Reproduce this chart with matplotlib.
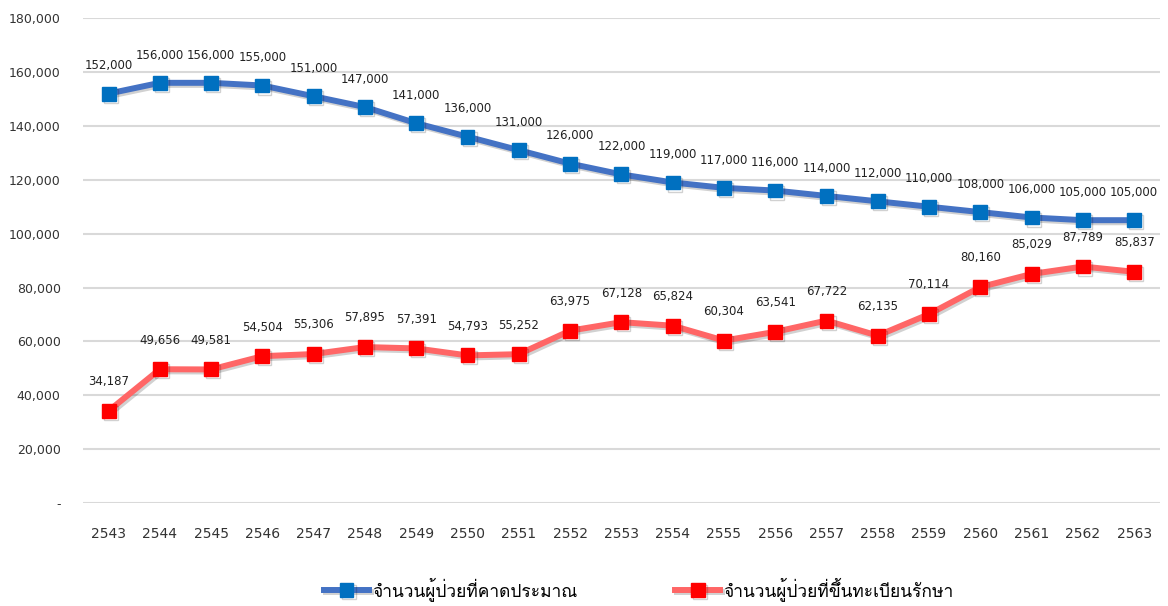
import matplotlib
matplotlib.use("Agg")
import matplotlib.pyplot as plt
import matplotlib.patheffects as pe
from matplotlib import font_manager
from matplotlib.ft2font import FT2Font
from matplotlib.ticker import FuncFormatter

years = ["2543", "2544", "2545", "2546", "2547", "2548", "2549", "2550", "2551", "2552",
         "2553", "2554", "2555", "2556", "2557", "2558", "2559", "2560", "2561", "2562", "2563"]
estimated = [152000, 156000, 156000, 155000, 151000, 147000, 141000, 136000, 131000, 126000,
             122000, 119000, 117000, 116000, 114000, 112000, 110000, 108000, 106000, 105000, 105000]
registered = [34187, 49656, 49581, 54504, 55306, 57895, 57391, 54793, 55252, 63975,
              67128, 65824, 60304, 63541, 67722, 62135, 70114, 80160, 85029, 87789, 85837]
series_names = ["จำนวนผู้ป่วยที่คาดประมาณ", "จำนวนผู้ป่วยที่ขึ้นทะเบียนรักษา"]

# find an installed font that has Thai glyphs
thai_font = None
for f in font_manager.fontManager.ttflist:
    try:
        if 0x0E08 in FT2Font(f.fname).get_charmap():
            thai_font = f.name
            break
    except Exception:
        pass
families = ([thai_font] if thai_font else []) + ["DejaVu Sans"]

fig = plt.figure(figsize=(11.68, 6.06), dpi=100)
ax = fig.add_axes([0.071, 0.17, 0.922, 0.80])

x = list(range(len(years)))
shadow = [pe.SimpleLineShadow(offset=(1.5, -1.5), alpha=0.18, shadow_color="black"), pe.Normal()]

ax.plot(x, estimated, color="#4472C4", lw=4.3, marker="s", ms=10,
        mfc="#0070C0", mec="#0070C0", label=series_names[0], path_effects=shadow, zorder=3)
ax.plot(x, registered, color="#FF6666", lw=4.3, marker="s", ms=10,
        mfc="#FF0000", mec="#FF0000", label=series_names[1], path_effects=shadow, zorder=3)

for xi, v in zip(x, estimated):
    ax.annotate(f"{v:,}", (xi, v), xytext=(0, 20), textcoords="offset points",
                ha="center", va="center", fontsize=8.5, color="#222222")
for xi, v in zip(x, registered):
    ax.annotate(f"{v:,}", (xi, v), xytext=(0, 21), textcoords="offset points",
                ha="center", va="center", fontsize=8.5, color="#222222")

ax.set_xlim(-0.5, len(years) - 0.5)
ax.set_ylim(0, 180000)
ax.set_yticks(range(0, 180001, 20000))
ax.yaxis.set_major_formatter(FuncFormatter(lambda v, p: "-" if v == 0 else f"{int(v):,}"))
ax.set_xticks(x)
ax.set_xticklabels(years)
ax.tick_params(axis="x", length=0, labelsize=10, colors="#333333", pad=17)
ax.tick_params(axis="y", length=0, labelsize=9, colors="#333333", pad=16)
ax.grid(axis="y", color="#D9D9D9", lw=1.5)
ax.set_axisbelow(True)
for s in ax.spines.values():
    s.set_visible(False)

leg = fig.legend(loc="lower center", bbox_to_anchor=(0.547, -0.018), ncol=2, frameon=False,
                 prop={"family": families, "size": 12.5}, handlelength=2.6,
                 handletextpad=0.2, columnspacing=5.6)

fig.savefig("out.png", dpi=100)
